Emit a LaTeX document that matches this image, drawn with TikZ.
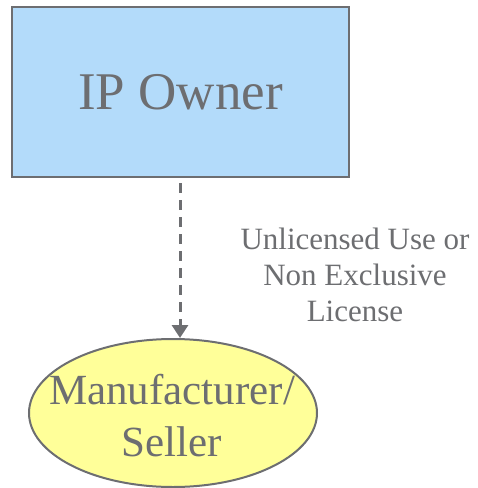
\documentclass[tikz,border=0pt]{standalone}
\usepackage{fontspec}
\setmainfont{Liberation Serif}
\usetikzlibrary{shapes.geometric,arrows.meta}
\definecolor{txtgray}{RGB}{109,110,113}
\definecolor{boxblue}{RGB}{179,219,250}
\definecolor{ellyellow}{RGB}{255,255,153}
\tikzset{
  ownerbox/.style={draw=txtgray, fill=boxblue, line width=2pt, minimum width=337pt, minimum height=170pt, inner sep=0pt, text=txtgray, font=\fontsize{53}{60}\selectfont},
  sellerell/.style={ellipse, draw=txtgray, fill=ellyellow, line width=2pt, minimum width=288pt, minimum height=148pt, inner sep=0pt},
  sellertxt/.style={text=txtgray, align=center, inner sep=0pt, font=\fontsize{43}{52}\selectfont},
  lbl/.style={text=txtgray, align=center, font=\fontsize{31}{36}\selectfont, inner sep=0pt},
  dasharrow/.style={draw=txtgray, line width=3pt, dash pattern=on 10pt off 7pt, -{Triangle[width=16pt,length=13pt]}}
}
\begin{document}
\begin{tikzpicture}[x=1pt,y=-1pt]
\useasboundingbox (0,0) rectangle (478,488);
\node[ownerbox] (owner) at (180.5,92) {IP Owner};
\node[sellerell] (seller) at (173,413) {};
\node[sellertxt] (sellertext) at (172,416) {Manufacturer/\\Seller};
\node[lbl] (label) at (355,275) {Unlicensed Use or\\Non Exclusive\\License};
\coordinate (arrstart) at (180,183);
\draw[dasharrow] (arrstart) -- (seller.north -| arrstart);
\end{tikzpicture}
\end{document}
